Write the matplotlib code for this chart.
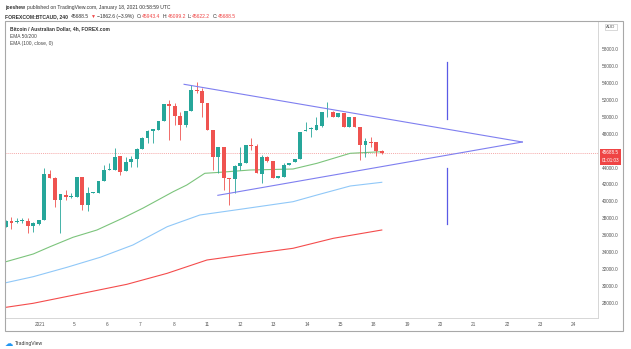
import matplotlib
matplotlib.use('Agg')
import matplotlib.pyplot as plt
from matplotlib.patches import Rectangle
import numpy as np

plt.rcParams['font.family'] = ['Liberation Sans', 'DejaVu Sans']

# 4h candles, BTCAUD (FOREX.com), oldest first
opens = [37000, 37713, 37594, 37700, 37713, 37081, 37318, 37792, 43199, 42804,
         40160, 40791, 40554, 40554, 42844, 39568, 41028, 41028, 42410, 43712,
         43712, 45370, 43633, 44698, 45054, 46159, 47462, 48369, 48448, 49553,
         51487, 51290, 50106, 49040, 50737, 53185, 53027, 51685, 48448, 45291,
         46400, 42804, 42646, 44186, 44580, 46672, 46593, 43238, 45291, 44777,
         42725, 42923, 44304, 44698, 44975, 48330, 48527, 48448, 48962, 50540,
         50619, 49948, 50501, 48843, 50027, 48843, 46672, 47067, 46988, 45943.4]
highs = [37750, 38186, 37989, 37989, 37989, 37594, 37850, 43909, 43712, 42850,
         40870, 41344, 40949, 42923, 42900, 41739, 41146, 42410, 44304, 44501,
         46277, 45370, 45291, 45370, 46277, 47659, 48448, 48527, 49553, 51487,
         52001, 51606, 50619, 50737, 53777, 54171, 53382, 51685, 48448, 46400,
         46400, 42804, 44304, 46475, 46672, 47462, 46751, 45488, 45370, 44777,
         43002, 44501, 44580, 45054, 48250, 49435, 48843, 50027, 50540, 51803,
         50650, 50422, 50501, 50027, 50027, 48843, 47462, 47659, 46988, 46099.2]
lows = [36950, 36686, 37397, 37397, 36292, 36410, 37250, 37792, 42804, 39371,
        36292, 40160, 40357, 40554, 38976, 38897, 40949, 40949, 42410, 43712,
        43712, 43120, 43633, 44107, 44107, 46159, 46869, 46869, 48448, 49553,
        47264, 49040, 47264, 48843, 50737, 52790, 50027, 48448, 43712, 43317,
        41344, 39568, 40949, 43712, 44501, 46080, 43317, 42212, 44698, 42725,
        42725, 42923, 44304, 44698, 44975, 48330, 47580, 48448, 48843, 50027,
        49948, 49948, 48843, 48843, 48843, 44896, 45291, 46475, 45370, 45622.2]
closes = [37700, 37397, 37713, 37720, 37081, 37397, 37792, 43199, 42804, 40160,
          40870, 40554, 40600, 42844, 39568, 41028, 41100, 42410, 43712, 43831,
          45291, 43515, 44698, 45054, 46159, 47462, 48290, 48527, 49553, 51487,
          51290, 50106, 49040, 50737, 53185, 53027, 51685, 48448, 45291, 46400,
          42804, 42646, 44186, 44580, 46672, 46514, 43317, 45291, 44817, 42725,
          43002, 44304, 44580, 45054, 48250, 48448, 48640, 49040, 50540, 50619,
          49948, 50422, 48843, 50027, 48843, 46672, 47146, 46949, 46001, 45688.5]

# EMA readings (bar index, price)
ema50_bar = [0, 5.0, 8.1, 12.3, 16.7, 21.5, 25.2, 30.7, 33.2, 36.5, 39.3, 44.8, 52.7, 57.1, 63.2, 69]
ema50_val = [32856, 33767, 34632, 35745, 36609, 38030, 39214, 41144, 41937, 43322, 43441, 43713,
             43831, 44506, 45690, 45880]
ema200_bar = [0, 5.0, 11.2, 17.3, 23.3, 29.6, 35.6, 43.0, 52.7, 57.1, 63.2, 69]
ema200_val = [30369, 31080, 32193, 33377, 34833, 37000, 38385, 39060, 39960, 40753, 41819, 42257]
ema100_bar = [0, 5.0, 14.1, 22.2, 29.6, 36.9, 44.8, 52.7, 60.1, 69]
ema100_val = [27457, 27931, 29116, 30180, 31482, 33057, 33767, 34442, 35626, 36609]

# drawn triangle and vertical marker
tri_upper = ([32.7, 94.8], [53860, 47028])
tri_lower = ([38.9, 94.8], [40717, 47028])
marker_bar = 81.0
marker_top = (56500, 49716)
marker_bottom = (43914, 37284)

day_labels = ['2021', '5', '6', '7', '8', '11', '12', '13', '14', '15',
              '18', '19', '20', '21', '22', '23', '24']
price_ticks = [28000, 30000, 32000, 34000, 36000, 38000, 40000, 42000, 44000,
               48000, 50000, 52000, 54000, 56000, 58000]
last_price = closes[-1]

W, H = 631, 349
fig = plt.figure(figsize=(W / 100, H / 100), dpi=100)
ax = fig.add_axes([5 / W, 1 - 318 / H, 593 / W, 297 / H])

up_c, dn_c = '#26a69a', '#ef5350'
x = np.arange(len(opens))
o = np.array(opens)
c = np.array(closes)
colors = [up_c if cc >= oo else dn_c for oo, cc in zip(o, c)]
ax.vlines(x, lows, highs, colors=colors, lw=0.6, zorder=3)
body = np.maximum(np.abs(c - o), 60)
ax.bar(x, body, bottom=np.minimum(o, c), width=0.7, color=colors, lw=0, zorder=4)

ax.plot(ema50_bar, ema50_val, color='#7cc47c', lw=0.8, zorder=2)
ax.plot(ema200_bar, ema200_val, color='#90c8f8', lw=0.8, zorder=2)
ax.plot(ema100_bar, ema100_val, color='#f44c4c', lw=0.8, zorder=2)

ax.plot(*tri_upper, color='#7f7ff0', lw=0.8, zorder=5)
ax.plot(*tri_lower, color='#7f7ff0', lw=0.8, zorder=5)
ax.plot([marker_bar, marker_bar], marker_top, color='#5a5ae6', lw=0.9, zorder=5)
ax.plot([marker_bar, marker_bar], marker_bottom, color='#5a5ae6', lw=0.9, zorder=5)

ax.axhline(last_price, color='#f28b8b', lw=0.5, ls=(0, (1.5, 1.5)), zorder=1)

ax.set_xlim(-0.18, 108.7)
ax.set_ylim(26190, 61355)

# one session label every ~6.12 bars
ax.set_xticks(6.32 + 6.12 * np.arange(len(day_labels)))
ax.set_xticklabels(day_labels)
ax.yaxis.tick_right()
ax.set_yticks(price_ticks)
ax.set_yticklabels([f'{p:.1f}' for p in price_ticks])
ax.tick_params(axis='both', length=0, labelsize=3.4, colors='#555555')
ax.tick_params(axis='x', pad=3)
ax.tick_params(axis='y', pad=3)
for s in ax.spines.values():
    s.set_color('#d6d6d6')
    s.set_linewidth(0.7)
ax.spines['left'].set_color('#999999')

# last price and countdown tags
tag = dict(boxstyle='square,pad=0.35', fc='#ef4444', ec='none')
ax.annotate(f'{last_price:.1f}', xy=(1.0, last_price), xycoords=('axes fraction', 'data'),
            xytext=(9, 0.5), textcoords='offset points', ha='center', va='center',
            fontsize=3.3, color='white', bbox=tag, annotation_clip=False, zorder=10)
ax.annotate('01:01:03', xy=(1.0, last_price), xycoords=('axes fraction', 'data'),
            xytext=(9, -5.5), textcoords='offset points', ha='center', va='center',
            fontsize=3.3, color='white', bbox=tag, annotation_clip=False, zorder=10)
ax.text(1.022, 0.98, 'AUD', transform=ax.transAxes, ha='center', va='center',
        fontsize=3.2, color='#555555',
        bbox=dict(boxstyle='square,pad=0.3', fc='white', ec='#bbbbbb', lw=0.4),
        clip_on=False, zorder=10)

# outer frame of the chart
fig.add_artist(Rectangle((5 / W, 1 - 331 / H), 618 / W, 310 / H, transform=fig.transFigure,
                         fill=False, ec='#a8a8a8', lw=0.8))

fig.canvas.draw()
renderer = fig.canvas.get_renderer()


def runs(x0, y0, parts, size):
    xpos = x0
    for txt, col, wt, gap in parts:
        t = fig.text(xpos, y0, txt, fontsize=size, color=col, weight=wt, va='center')
        bb = t.get_window_extent(renderer)
        xpos = bb.x1 / W + gap / W


dark = '#333333'
red = '#ef4444'
runs(5 / W, 1 - 8 / H, [('joeshew', dark, 'bold', 2.5),
                        ('published on TradingView.com, January 18, 2021 00:58:59 UTC', dark, 'normal', 0)],
     3.6)
runs(5 / W, 1 - 16.5 / H, [('FOREXCOM:BTCAUD, 240', dark, 'bold', 3),
                           (f'{last_price:.1f}', dark, 'normal', 1.5), ('▼', red, 'normal', 1.5),
                           ('−1862.6 (−3.9%)', dark, 'normal', 2.5),
                           ('O:', dark, 'normal', 0.3), ('45943.4', red, 'normal', 2),
                           ('H:', dark, 'normal', 0.3), ('46099.2', red, 'normal', 2),
                           ('L:', dark, 'normal', 0.3), ('45622.2', red, 'normal', 2),
                           ('C:', dark, 'normal', 0.3), (f'{last_price:.1f}', red, 'normal', 0)], 3.6)

fig.text(10 / W, 1 - 29 / H, 'Bitcoin / Australian Dollar, 4h, FOREX.com', fontsize=3.5,
         color=dark, weight='bold', va='center')
fig.text(10 / W, 1 - 36 / H, 'EMA 50/200', fontsize=3.5, color='#444444', va='center')
fig.text(10 / W, 1 - 43 / H, 'EMA (100, close, 0)', fontsize=3.5, color='#444444', va='center')

fig.text(5 / W, 1 - 343 / H, '☁', fontsize=6, color='#2196f3', va='center', family='DejaVu Sans')
fig.text(15 / W, 1 - 343 / H, 'TradingView', fontsize=3.6, color=dark, va='center')

fig.savefig('out.png', dpi=100)
